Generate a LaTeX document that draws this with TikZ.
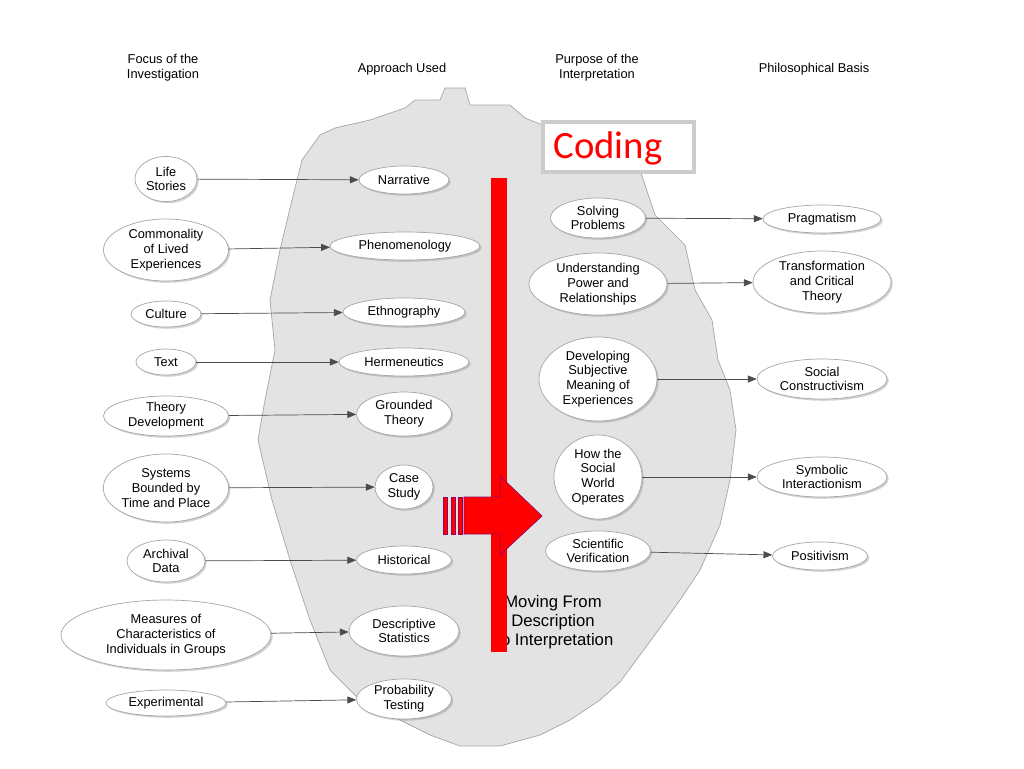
\documentclass[tikz,border=0pt]{standalone}
\usepackage{fontspec}
\setmainfont{Liberation Sans}
\newfontfamily\codingfont{Carlito}
\usetikzlibrary{shapes.geometric,arrows.meta,shadows}
\begin{document}
\begin{tikzpicture}[x=0.02cm,y=-0.02cm,
  every node/.style={font=\fontsize{7.3}{8.4}\selectfont,align=center},
  elli/.style 2 args={ellipse,draw=gray!70,fill=white,inner sep=0pt,
    minimum width=#1*0.02cm,minimum height=#2*0.02cm,
    drop shadow={shadow xshift=1pt,shadow yshift=-1pt,opacity=0.35}},
  link/.style={draw=gray!60!black,-{Triangle[length=5pt,width=4pt]}}]
  \useasboundingbox (0,0) rectangle (1024,768);
  \fill[white] (0,0) rectangle (1024,768);

  % grey blob
  \draw[gray!70,fill=gray!22] (320,135) -- (335,128) -- (370,120) -- (405,108) -- (415,100)
  -- (440,100) -- (445,88) -- (465,88) -- (470,105) -- (510,105) -- (525,118) -- (545,126)
  -- (600,140) -- (640,170) -- (655,215) -- (685,245) -- (695,290) -- (712,320) -- (718,360)
  -- (730,390) -- (736,430) -- (730,480) -- (720,525) -- (700,570) -- (680,600) -- (662,625)
  -- (640,655) -- (620,682) -- (600,700) -- (570,720) -- (540,735) -- (500,746) -- (460,746)
  -- (430,735) -- (400,720) -- (360,700) -- (330,670) -- (310,620) -- (290,560) -- (272,500)
  -- (258,440) -- (265,400) -- (275,350) -- (270,300) -- (280,250) -- (292,200) -- (302,160) -- cycle;

  % headers
  \node (hfocus) at (163,68) {Focus of the\\Investigation};
  \node (happr) at (402,69) {Approach Used};
  \node (hpurp) at (597,68) {Purpose of the\\Interpretation};
  \node (hphil) at (814,69) {Philosophical Basis};

  % coding box
  \draw[gray!40,line width=2.5pt,fill=white] (543,122) rectangle (694,172);
  \node[text=red,font=\codingfont\fontsize{22}{24}\selectfont] (coding) at (608,148) {Coding};

  % moving text
  \node[font=\fontsize{9.5}{11}\selectfont] (moving) at (553,622) {Moving From\\Description\\To Interpretation};

  % focus
  \node[elli={62}{45}] (life) at (166,179) {Life\\Stories};
  \node[elli={125}{62}] (common) at (166,250) {Commonality\\of Lived\\Experiences};
  \node[elli={70}{26}] (culture) at (166,314) {Culture};
  \node[elli={60}{26}] (text) at (166,362) {Text};
  \node[elli={125}{40}] (theory) at (166,416) {Theory\\Development};
  \node[elli={125}{68}] (systems) at (166,488) {Systems\\Bounded by\\Time and Place};
  \node[elli={78}{42}] (archival) at (166,561) {Archival\\Data};
  \node[elli={210}{70}] (measures) at (166,635) {Measures of\\Characteristics of\\Individuals in Groups};
  \node[elli={120}{26}] (experim) at (166,703) {Experimental};

  % approach
  \node[elli={90}{28}] (narrative) at (404,180) {Narrative};
  \node[elli={150}{28}] (phenom) at (405,246) {Phenomenology};
  \node[elli={122}{28}] (ethno) at (404,312) {Ethnography};
  \node[elli={130}{28}] (herme) at (404,362) {Hermeneutics};
  \node[elli={95}{44}] (grounded) at (404,414) {Grounded\\Theory};
  \node[elli={58}{44}] (casestudy) at (404,487) {Case\\Study};
  \node[elli={95}{28}] (historical) at (404,560) {Historical};
  \node[elli={110}{50}] (descr) at (404,631) {Descriptive\\Statistics};
  \node[elli={95}{40}] (prob) at (404,699) {Probability\\Testing};

  % purpose
  \node[elli={95}{40}] (solving) at (598,218) {Solving\\Problems};
  \node[elli={138}{62}] (underst) at (598,284) {Understanding\\Power and\\Relationships};
  \node[elli={118}{84}] (develop) at (598,379) {Developing\\Subjective\\Meaning of\\Experiences};
  \node[elli={88}{84}] (howsocial) at (598,477) {How the\\Social\\World\\Operates};
  \node[elli={105}{40}] (scient) at (598,551) {Scientific\\Verification};

  % basis
  \node[elli={118}{28}] (pragma) at (822,219) {Pragmatism};
  \node[elli={138}{62}] (transf) at (822,282) {Transformation\\and Critical\\Theory};
  \node[elli={130}{40}] (socconst) at (822,379) {Social\\Constructivism};
  \node[elli={130}{40}] (symbolic) at (822,477) {Symbolic\\Interactionism};
  \node[elli={95}{28}] (positiv) at (820,556) {Positivism};

  \foreach \a/\b in {life/narrative,common/phenom,culture/ethno,text/herme,
    theory/grounded,systems/casestudy,archival/historical,measures/descr,
    experim/prob,solving/pragma,underst/transf,develop/socconst,
    howsocial/symbolic,scient/positiv}
    \draw[link] (\a) -- (\b);

  % red bar and arrow
  \fill[red] (491,178) rectangle (507,652);
  \draw[red!60!blue,fill=red] (464,497) -- (500,497) -- (500,476) -- (542,516) -- (500,555)
  -- (500,534) -- (464,534) -- cycle;
  \foreach \xs in {443,451,458}
    \draw[red!60!blue,fill=red] (\xs,497) rectangle (\xs+4,534);
\end{tikzpicture}
\end{document}
